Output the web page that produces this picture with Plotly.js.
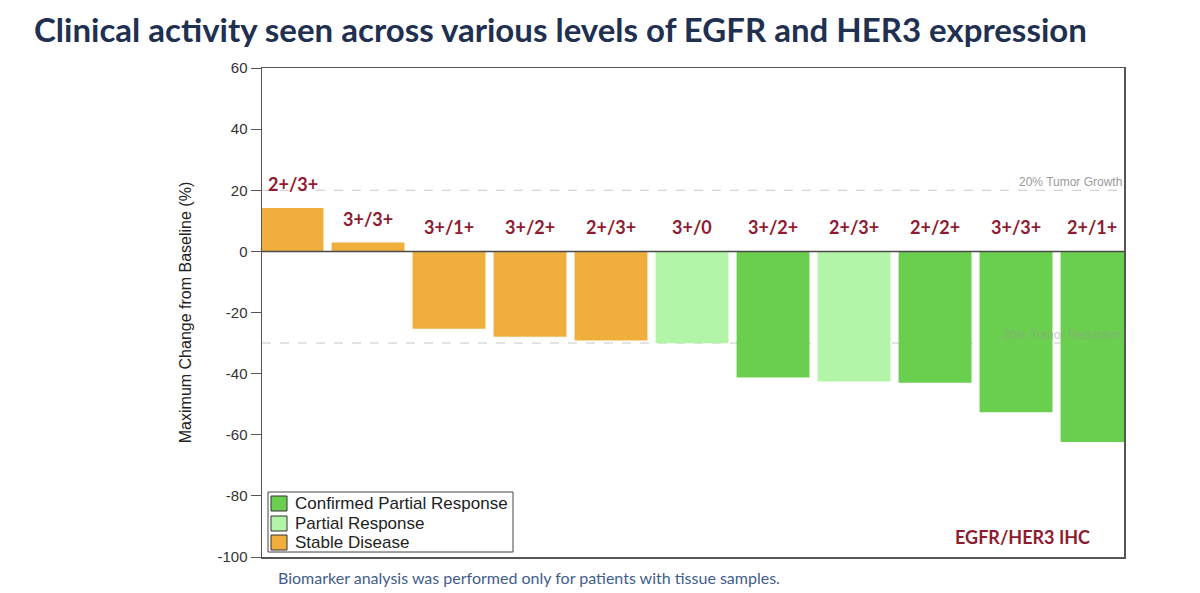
<!DOCTYPE html>
<html>
<head>
<meta charset="utf-8">
<script src="https://cdn.plot.ly/plotly-3.0.1.min.js"></script>
<style>html,body{margin:0;padding:0;background:#fff}#chart{width:1200px;height:593px}</style>
</head>
<body>
<div id="chart"></div>
<script>
// Data
const patients = [0,1,2,3,4,5,6,7,8,9,10];
const ihcLabels = ["2+/3+","3+/3+","3+/1+","3+/2+","2+/3+","3+/0","3+/2+","2+/3+","2+/2+","3+/3+","2+/1+"];
const changes = [14.2, 2.9, -25.3, -27.9, -29.2, -30.1, -41.3, -42.6, -43.0, -52.6, -62.4];
const responses = ["SD","SD","SD","SD","SD","PR","CPR","PR","CPR","CPR","CPR"];
const categories = ["CPR","PR","SD"];
const categoryNames = ["Confirmed Partial Response","Partial Response","Stable Disease"];
const categoryColors = ["#6acf4e","#b3f5a6","#f0af3c"];
const refLevels = [20, -30];
const refLabels = ["20% Tumor Growth","30% Tumor Reduction"];
const yTickVals = [60, 40, 20, 0, -20, -40, -60, -80, -100];
const yTickText = ["60","40","20","0","-20","-40","-60","-80","-100"];

// plot-area geometry helpers (pixels -> paper)
const L = 262, R = 1124, T = 68, B = 557;
const px = v => (v - L) / (R - L);
const py = v => (B - v) / (B - T);
const xRange = [-0.309, 10.333];
const barW = 0.9;

const traces = [];
categories.forEach((c, ci) => {
  const xs = [], ys = [];
  patients.forEach((p, i) => { if (responses[i] === c) { xs.push(p); ys.push(changes[i]); } });
  traces.push({type:'bar', x:xs, y:ys, width:barW, marker:{color:categoryColors[ci], line:{width:0}},
    name:categoryNames[ci], showlegend:false, hoverinfo:'skip'});
});

// labels centred on the visible part of each bar
const annotations = patients.map((p, i) => ({
  x:(Math.max(p - barW/2, xRange[0]) + Math.min(p + barW/2, xRange[1])) / 2,
  y:Math.max(changes[i],0), xref:'x', yref:'y', text:ihcLabels[i], showarrow:false,
  yanchor:'bottom', yshift:11, font:{family:'Lato, Open Sans, sans-serif', size:18, color:'#8e1b30', weight:'bold'}
}));
refLevels.forEach((lv, i) => {
  annotations.push({x:1, xref:'paper', y:lv, yref:'y', xanchor:'right', yanchor:'bottom', showarrow:false,
    text:refLabels[i], font:{family:'Liberation Sans, Arial, sans-serif', size:12, color: i===0 ? '#9a9a9a' : 'rgba(150,150,150,0.55)'}, yshift:-1});
});
annotations.push({x:px(1092), xref:'paper', y:py(537), yref:'paper', xanchor:'right', yanchor:'middle', showarrow:false,
  text:'EGFR/HER3 IHC', font:{family:'Lato, Open Sans, sans-serif', size:18, color:'#8e1b30', weight:'bold'}});
annotations.push({x:px(276), xref:'paper', y:py(577), yref:'paper', showarrow:false, text:'Biomarker analysis was performed only for patients with tissue samples.',
  font:{family:'Lato, Open Sans, sans-serif', size:16, color:'#3f5d8c'}, xanchor:'left', yanchor:'middle'});

const shapes = refLevels.map(lv => ({type:'line', xref:'paper', x0:0, x1:1, yref:'y', y0:lv, y1:lv,
  line:{color:'#c8c8c8', width:1, dash:'dash'}, layer:'below'}));
shapes.push({type:'line', xref:'paper', x0:0, x1:1, yref:'y', y0:0, y1:0, line:{color:'#4a4a4a', width:1.5}, layer:'above'});

// legend box (built from the category arrays)
shapes.push({type:'rect', xref:'paper', yref:'paper', x0:px(268), x1:px(513), y0:py(552), y1:py(492),
  line:{color:'#444', width:1}, fillcolor:'#fff', layer:'above'});
const rowTop = [496, 516, 535];
categoryNames.forEach((n, i) => {
  shapes.push({type:'rect', xref:'paper', yref:'paper', x0:px(271), x1:px(287), y0:py(rowTop[i]+15), y1:py(rowTop[i]),
    line:{color:'#333', width:1}, fillcolor:categoryColors[i], layer:'above'});
  annotations.push({x:px(293), xref:'paper', y:py(rowTop[i]+7.5), yref:'paper', xanchor:'left', yanchor:'middle', showarrow:false,
    text:n, font:{family:'Liberation Sans, Arial, sans-serif', size:17, color:'#222'}});
});

const layout = {
  width:1200, height:593,
  margin:{l:L, r:1200-R, t:T, b:593-B},
  paper_bgcolor:'#fff', plot_bgcolor:'#fff',
  barmode:'overlay',
  title:{text:'Clinical activity seen across various levels of EGFR and HER3 expression',
    font:{family:'Lato, Open Sans, sans-serif', size:33, color:'#1f3050', weight:'bold'},
    x:34/1200, xanchor:'left', xref:'container', y:1-30/593, yanchor:'middle', yref:'container'},
  xaxis:{range:xRange, showticklabels:false, ticks:'', showgrid:false, zeroline:false,
    showline:true, mirror:true, linecolor:'#555', linewidth:1.5, fixedrange:true},
  yaxis:{range:[-100, 60], tickvals:yTickVals, ticktext:yTickText, ticks:'outside', ticklen:10, tickcolor:'#555', tickwidth:1,
    showgrid:false, zeroline:false, showline:true, mirror:true, linecolor:'#555', linewidth:1.5,
    tickfont:{family:'Liberation Sans, Arial, sans-serif', size:15, color:'#333'},
    title:{text:'Maximum Change from Baseline (%)', font:{family:'Liberation Sans, Arial, sans-serif', size:16, color:'#222'}, standoff:22}},
  shapes:shapes,
  annotations:annotations,
  showlegend:false
};
Plotly.newPlot('chart', traces, layout, {displayModeBar:false, staticPlot:true});
</script>
</body>
</html>
